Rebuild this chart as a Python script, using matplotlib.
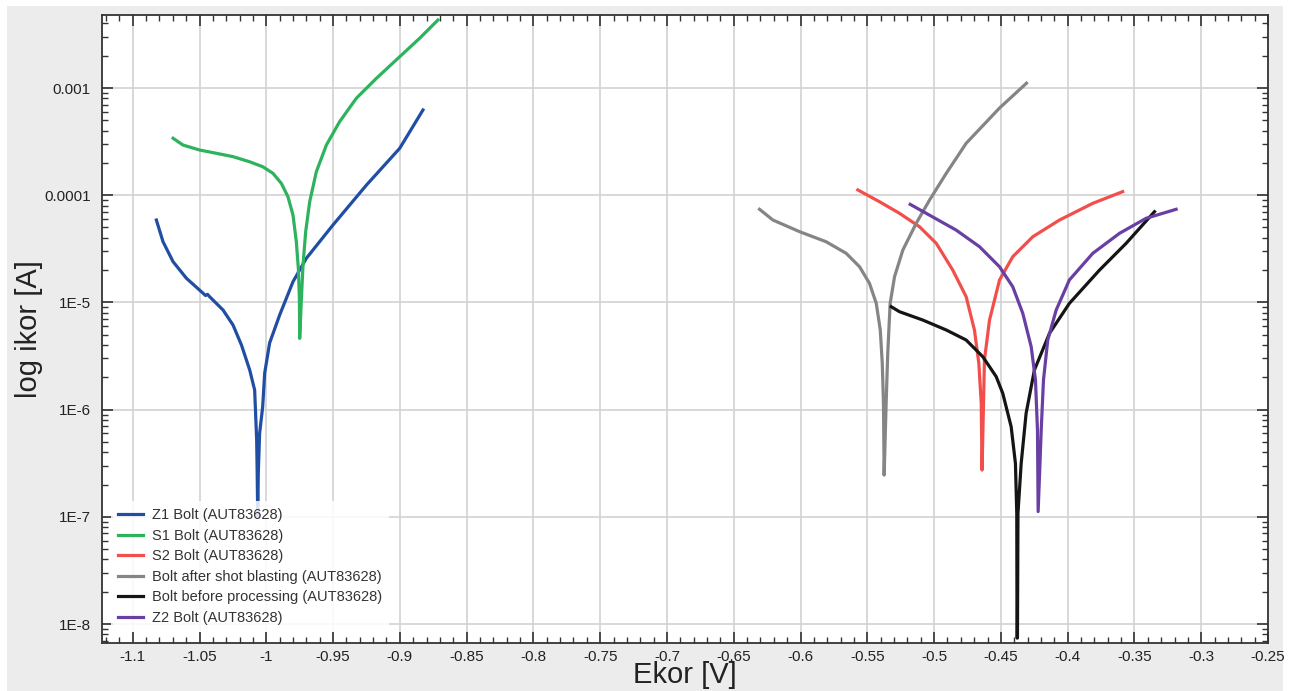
import matplotlib
matplotlib.use('Agg')
import matplotlib.pyplot as plt
from matplotlib.patches import Rectangle
from matplotlib.ticker import FixedLocator, FixedFormatter, LogLocator, NullFormatter, MultipleLocator

plt.rcParams['font.family'] = ['Liberation Sans', 'DejaVu Sans']

# Tafel curves: potential [V] and current [A]
z1_E = [-1.0823, -1.0773, -1.0698, -1.0598, -1.0474, -1.0455, -1.0440, -1.0424, -1.0324,
        -1.0249, -1.0186, -1.0124, -1.0087, -1.0072, -1.0068, -1.0064, -1.0060, -1.0050,
        -1.0027, -1.0012, -0.9975, -0.9900, -0.9800, -0.9700, -0.9501, -0.9251, -0.9001,
        -0.8827]
z1_I = [5.87e-5, 3.68e-5, 2.40e-5, 1.68e-5, 1.22e-5, 1.16e-5, 1.19e-5, 1.13e-5, 8.5e-6,
        6.15e-6, 4.01e-6, 2.34e-6, 1.52e-6, 5.2e-7, 2.5e-7, 1.0e-7, 2.5e-7, 6.0e-7,
        1.06e-6, 2.19e-6, 4.18e-6, 7.62e-6, 1.56e-5, 2.58e-5, 5.27e-5, 1.24e-4, 2.74e-4,
        6.24e-4]

s1_E = [-1.0698, -1.0624, -1.0499, -1.0373, -1.0249, -1.0124, -1.0025, -0.9950, -0.9887,
        -0.9838, -0.9800, -0.9775, -0.9760, -0.9752, -0.9750, -0.9737, -0.9725, -0.9705,
        -0.9675, -0.9625, -0.9550, -0.9451, -0.9326, -0.9176, -0.9001, -0.8852, -0.8715]
s1_I = [3.40e-4, 2.94e-4, 2.64e-4, 2.46e-4, 2.29e-4, 2.05e-4, 1.84e-4, 1.60e-4, 1.29e-4,
        9.7e-5, 6.53e-5, 3.68e-5, 2.08e-5, 1.09e-5, 4.62e-6, 1.09e-5, 2.23e-5, 4.57e-5,
        8.69e-5, 1.66e-4, 2.94e-4, 4.85e-4, 8.02e-4, 1.23e-3, 1.96e-3, 2.91e-3, 4.31e-3]

s2_E = [-0.5571, -0.5409, -0.5259, -0.5109, -0.4984, -0.4860, -0.4760, -0.4698, -0.4665,
        -0.4647, -0.4641, -0.4630, -0.4623, -0.4585, -0.4510, -0.4411, -0.4261, -0.4061,
        -0.3812, -0.3588]
s2_I = [1.12e-4, 8.70e-5, 6.78e-5, 5.08e-5, 3.56e-5, 2.00e-5, 1.13e-5, 5.53e-6, 2.70e-6,
        1.15e-6, 2.73e-7, 1.15e-6, 2.90e-6, 6.85e-6, 1.62e-5, 2.67e-5, 4.10e-5, 5.87e-5,
        8.40e-5, 1.08e-4]

shot_E = [-0.6307, -0.6207, -0.6007, -0.5808, -0.5658, -0.5558, -0.5484, -0.5433, -0.5403,
          -0.5388, -0.5379, -0.5374, -0.5359, -0.5347, -0.5329, -0.5296, -0.5234, -0.5134,
          -0.5034, -0.4909, -0.4760, -0.4510, -0.4308]
shot_I = [7.39e-5, 5.87e-5, 4.57e-5, 3.68e-5, 2.87e-5, 2.15e-5, 1.51e-5, 9.8e-6, 5.53e-6,
          2.70e-6, 1.15e-6, 2.45e-7, 1.15e-6, 3.35e-6, 9.8e-6, 1.74e-5, 3.08e-5, 5.47e-5,
          9.02e-5, 1.60e-4, 3.05e-4, 6.51e-4, 1.11e-3]

raw_E = [-0.5321, -0.5259, -0.5085, -0.4909, -0.4760, -0.4635, -0.4535, -0.4486, -0.4423,
         -0.4391, -0.4381, -0.4379, -0.4376, -0.4372, -0.4348, -0.4311, -0.4249, -0.4136,
         -0.3987, -0.3762, -0.3562, -0.3350]
raw_I = [9.12e-6, 8.19e-6, 6.85e-6, 5.53e-6, 4.46e-6, 3.11e-6, 2.03e-6, 1.42e-6, 6.93e-7,
         3.15e-7, 1.08e-7, 7.4e-9, 7.4e-9, 1.08e-7, 3.15e-7, 9.24e-7, 2.34e-6, 5.15e-6,
         9.8e-6, 2.00e-5, 3.56e-5, 7.02e-5]

z2_E = [-0.5179, -0.5059, -0.4835, -0.4660, -0.4510, -0.4411, -0.4336, -0.4273, -0.4241,
        -0.4226, -0.4221, -0.4198, -0.4181, -0.4149, -0.4086, -0.3987, -0.3812, -0.3612,
        -0.3413, -0.3188]
z2_I = [8.22e-5, 6.78e-5, 4.73e-5, 3.31e-5, 2.15e-5, 1.40e-5, 7.91e-6, 3.86e-6, 1.89e-6,
        6.45e-7, 1.12e-7, 6.45e-7, 1.89e-6, 4.46e-6, 8.49e-6, 1.62e-5, 2.87e-5, 4.41e-5,
        6.09e-5, 7.39e-5]

series = [
    (z1_E, z1_I, 'Z1 Bolt (AUT83628)', '#1f4ea3'),
    (s1_E, s1_I, 'S1 Bolt (AUT83628)', '#2db35d'),
    (s2_E, s2_I, 'S2 Bolt (AUT83628)', '#f24f4c'),
    (shot_E, shot_I, 'Bolt after shot blasting (AUT83628)', '#858585'),
    (raw_E, raw_I, 'Bolt before processing (AUT83628)', '#151515'),
    (z2_E, z2_I, 'Z2 Bolt (AUT83628)', '#6a3fa3'),
]

x_ticks = [-1.1, -1.05, -1.0, -0.95, -0.9, -0.85, -0.8, -0.75, -0.7, -0.65, -0.6,
           -0.55, -0.5, -0.45, -0.4, -0.35, -0.3, -0.25]
x_labels = ['-1.1', '-1.05', '-1', '-0.95', '-0.9', '-0.85', '-0.8', '-0.75', '-0.7',
            '-0.65', '-0.6', '-0.55', '-0.5', '-0.45', '-0.4', '-0.35', '-0.3', '-0.25']
y_ticks = [1e-8, 1e-7, 1e-6, 1e-5, 1e-4, 1e-3]
y_labels = ['1E-8', '1E-7', '1E-6', '1E-5', '0.0001', '0.001']

fig = plt.figure(figsize=(12.92, 6.91), dpi=100, facecolor='white')
fig.patches.append(Rectangle((7 / 1292, 0), 1276 / 1292, 685 / 691, transform=fig.transFigure,
                             facecolor='#ececec', edgecolor='none', zorder=-10))
ax = fig.add_axes([102 / 1292, 1 - 643 / 691, 1166 / 1292, 628 / 691])

for E, I, lab, col in series:
    ax.plot(E, I, color=col, lw=2.3, label=lab, solid_joinstyle='round')

ax.set_yscale('log')
ax.set_xlim(-1.123, -0.25)
ax.set_ylim(6.65e-9, 4.8e-3)

ax.xaxis.set_major_locator(FixedLocator(x_ticks))
ax.xaxis.set_major_formatter(FixedFormatter(x_labels))
ax.xaxis.set_minor_locator(MultipleLocator(0.01))
ax.yaxis.set_major_locator(FixedLocator(y_ticks))
ax.yaxis.set_major_formatter(FixedFormatter(y_labels))
ax.yaxis.set_minor_locator(LogLocator(base=10, subs=range(2, 10), numticks=20))
ax.yaxis.set_minor_formatter(NullFormatter())

ax.tick_params(which='both', direction='in', top=True, right=True, colors='#333333',
               labelcolor='#222222', labelsize=11)
ax.tick_params(which='major', length=8, width=1.2)
ax.tick_params(which='minor', length=4, width=1)
ax.tick_params(axis='x', pad=5)
ax.tick_params(axis='y', pad=8)

ax.grid(True, which='major', color='#d2d2d2', lw=1.2)
ax.set_axisbelow(True)
for s in ax.spines.values():
    s.set_color('#333333')
    s.set_linewidth(1.3)

ax.set_xlabel('Ekor [V]', fontsize=21, color='#222222')
ax.set_ylabel('log ikor [A]', fontsize=21, color='#222222')
ax.xaxis.set_label_coords(0.5, -0.028)
ax.yaxis.set_label_coords(-0.0506, 0.5)

leg = ax.legend(loc='lower left', bbox_to_anchor=(0.004, 0.01), fontsize=10.5, frameon=True,
                facecolor='white', edgecolor='none', framealpha=0.85, handlelength=1.7,
                handletextpad=0.6, labelspacing=0.45, borderpad=0.5, borderaxespad=0.3)
for t in leg.get_texts():
    t.set_color('#333333')

fig.savefig('out.png', dpi=100, facecolor=fig.get_facecolor())
